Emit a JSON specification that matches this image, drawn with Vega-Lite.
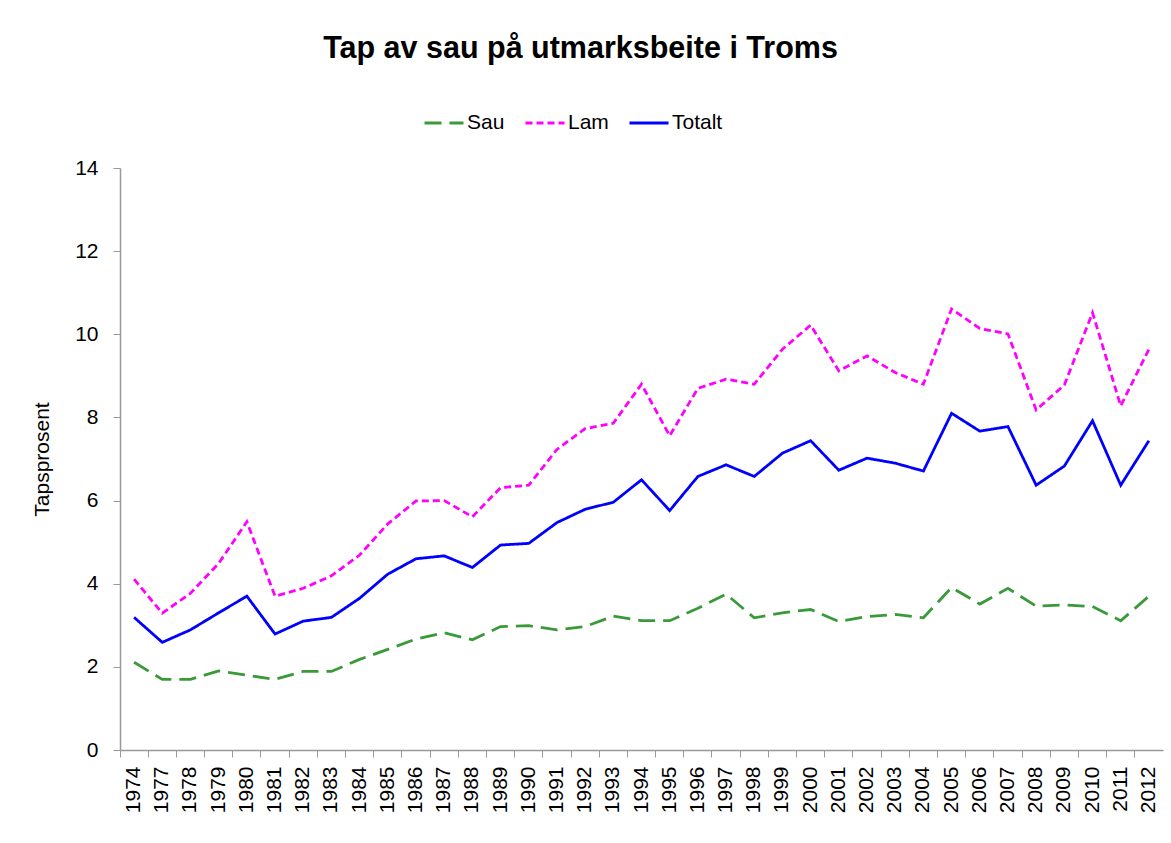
{
  "$schema": "https://vega.github.io/schema/vega-lite/v6.json",
  "width": 1043,
  "height": 582,
  "autosize": {"type": "none"},
  "padding": {"left": 120, "top": 168, "right": 8, "bottom": 93},
  "background": "white",
  "title": {
    "text": "Tap av sau på utmarksbeite i Troms",
    "font": "Liberation Sans",
    "fontSize": 30.5,
    "fontWeight": "bold",
    "color": "black",
    "anchor": "middle",
    "frame": "group",
    "dx": -61,
    "dy": -28,
    "offset": 10
  },
  "data": {
    "values": [
      {"year": "1974", "Sau": 2.11, "Lam": 4.11, "Totalt": 3.19},
      {"year": "1977", "Sau": 1.70, "Lam": 3.29, "Totalt": 2.59},
      {"year": "1978", "Sau": 1.70, "Lam": 3.77, "Totalt": 2.89},
      {"year": "1979", "Sau": 1.90, "Lam": 4.49, "Totalt": 3.30},
      {"year": "1980", "Sau": 1.80, "Lam": 5.49, "Totalt": 3.70},
      {"year": "1981", "Sau": 1.70, "Lam": 3.70, "Totalt": 2.79},
      {"year": "1982", "Sau": 1.89, "Lam": 3.89, "Totalt": 3.10},
      {"year": "1983", "Sau": 1.89, "Lam": 4.19, "Totalt": 3.19},
      {"year": "1984", "Sau": 2.18, "Lam": 4.69, "Totalt": 3.65},
      {"year": "1985", "Sau": 2.42, "Lam": 5.44, "Totalt": 4.23},
      {"year": "1986", "Sau": 2.67, "Lam": 5.99, "Totalt": 4.60},
      {"year": "1987", "Sau": 2.82, "Lam": 6.00, "Totalt": 4.67},
      {"year": "1988", "Sau": 2.65, "Lam": 5.61, "Totalt": 4.39},
      {"year": "1989", "Sau": 2.97, "Lam": 6.31, "Totalt": 4.93},
      {"year": "1990", "Sau": 2.99, "Lam": 6.37, "Totalt": 4.97},
      {"year": "1991", "Sau": 2.89, "Lam": 7.23, "Totalt": 5.47},
      {"year": "1992", "Sau": 2.97, "Lam": 7.73, "Totalt": 5.79},
      {"year": "1993", "Sau": 3.22, "Lam": 7.86, "Totalt": 5.96},
      {"year": "1994", "Sau": 3.11, "Lam": 8.80, "Totalt": 6.50},
      {"year": "1995", "Sau": 3.11, "Lam": 7.56, "Totalt": 5.76},
      {"year": "1996", "Sau": 3.41, "Lam": 8.70, "Totalt": 6.58},
      {"year": "1997", "Sau": 3.75, "Lam": 8.92, "Totalt": 6.86},
      {"year": "1998", "Sau": 3.18, "Lam": 8.80, "Totalt": 6.58},
      {"year": "1999", "Sau": 3.30, "Lam": 9.64, "Totalt": 7.14},
      {"year": "2000", "Sau": 3.38, "Lam": 10.22, "Totalt": 7.44},
      {"year": "2001", "Sau": 3.09, "Lam": 9.12, "Totalt": 6.73},
      {"year": "2002", "Sau": 3.21, "Lam": 9.48, "Totalt": 7.02},
      {"year": "2003", "Sau": 3.26, "Lam": 9.08, "Totalt": 6.90},
      {"year": "2004", "Sau": 3.18, "Lam": 8.80, "Totalt": 6.71},
      {"year": "2005", "Sau": 3.91, "Lam": 10.61, "Totalt": 8.10},
      {"year": "2006", "Sau": 3.51, "Lam": 10.14, "Totalt": 7.67},
      {"year": "2007", "Sau": 3.89, "Lam": 10.01, "Totalt": 7.78},
      {"year": "2008", "Sau": 3.46, "Lam": 8.18, "Totalt": 6.37},
      {"year": "2009", "Sau": 3.49, "Lam": 8.78, "Totalt": 6.83},
      {"year": "2010", "Sau": 3.45, "Lam": 10.52, "Totalt": 7.92},
      {"year": "2011", "Sau": 3.11, "Lam": 8.28, "Totalt": 6.37},
      {"year": "2012", "Sau": 3.70, "Lam": 9.64, "Totalt": 7.44}
    ]
  },
  "transform": [{"fold": ["Sau", "Lam", "Totalt"], "as": ["serie", "verdi"]}],
  "mark": {"type": "line", "strokeWidth": 2.8, "strokeCap": "butt", "strokeJoin": "miter"},
  "encoding": {
    "x": {
      "field": "year",
      "type": "ordinal",
      "scale": {"type": "band", "paddingInner": 0, "paddingOuter": 0},
      "axis": {
        "title": null,
        "bandPosition": 0,
        "labelAngle": -90,
        "labelFont": "Liberation Sans",
        "labelFontSize": 21,
        "labelColor": "black",
        "labelPadding": 9,
        "tickSize": 7,
        "tickColor": "#999999",
        "domainColor": "#999999",
        "domainWidth": 1.5,
        "tickWidth": 1
      }
    },
    "y": {
      "field": "verdi",
      "type": "quantitative",
      "scale": {"domain": [0, 14], "nice": false},
      "axis": {
        "title": "Tapsprosent",
        "values": [0, 2, 4, 6, 8, 10, 12, 14],
        "grid": false,
        "labelFont": "Liberation Sans",
        "labelFontSize": 21,
        "labelColor": "black",
        "labelPadding": 15,
        "tickSize": 7,
        "tickColor": "#999999",
        "domainColor": "#999999",
        "domainWidth": 1.5,
        "titleFont": "Liberation Sans",
        "titleFontSize": 21,
        "titleFontWeight": "normal",
        "titleColor": "black",
        "titlePadding": 22
      }
    },
    "color": {
      "field": "serie",
      "type": "nominal",
      "scale": {"domain": ["Sau", "Lam", "Totalt"], "range": ["#3a9a3a", "#ff00ff", "#0000ff"]},
      "legend": {
        "title": null,
        "orient": "none",
        "legendX": 303,
        "legendY": -66,
        "direction": "horizontal",
        "symbolType": "stroke",
        "symbolSize": 1521,
        "symbolStrokeWidth": 2.8,
        "labelFont": "Liberation Sans",
        "labelFontSize": 21,
        "labelColor": "black",
        "labelOffset": 2,
        "columnPadding": 14
      }
    },
    "strokeDash": {
      "field": "serie",
      "type": "nominal",
      "scale": {"domain": ["Sau", "Lam", "Totalt"], "range": [[17, 8], [7, 4], [1, 0]]},
      "legend": {
        "title": null,
        "orient": "none",
        "legendX": 303,
        "legendY": -66,
        "direction": "horizontal",
        "symbolType": "stroke",
        "symbolSize": 1521,
        "symbolStrokeWidth": 2.8,
        "labelFont": "Liberation Sans",
        "labelFontSize": 21,
        "labelColor": "black",
        "labelOffset": 2,
        "columnPadding": 14
      }
    }
  },
  "config": {"view": {"stroke": null}}
}
